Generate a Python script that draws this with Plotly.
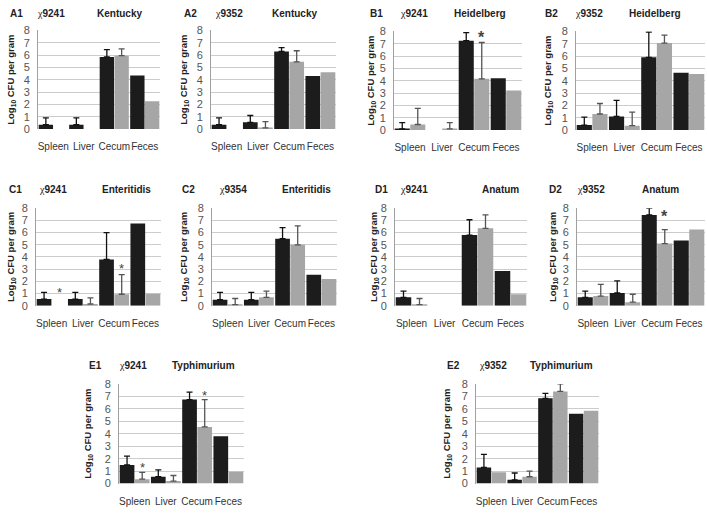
import plotly.graph_objects as go

organs = ["Spleen", "Liver", "Cecum", "Feces"]

# log10 CFU per gram: black = first group, grey = second group; err = upper error
A1_black = [0.35, 0.35, 5.85, 4.35]
A1_black_err = [0.55, 0.55, 0.6, None]
A1_grey = [0, 0, 5.95, 2.25]
A1_grey_err = [None, None, 0.55, None]

A2_black = [0.35, 0.55, 6.3, 4.3]
A2_black_err = [0.55, 0.55, 0.3, None]
A2_grey = [0, 0.1, 5.45, 4.6]
A2_grey_err = [None, 0.5, 0.9, None]

B1_black = [0.1, 0, 7.25, 4.2]
B1_black_err = [0.5, None, 0.65, None]
B1_grey = [0.45, 0.1, 4.15, 3.2]
B1_grey_err = [1.3, 0.5, 2.95, None]

B2_black = [0.4, 1.1, 5.9, 4.65]
B2_black_err = [0.65, 1.3, 2.05, None]
B2_grey = [1.3, 0.35, 7.05, 4.55]
B2_grey_err = [0.85, 1.1, 0.65, None]

C1_black = [0.55, 0.55, 3.8, 6.75]
C1_black_err = [0.55, 0.55, 2.2, None]
C1_grey = [0, 0.15, 0.95, 1.0]
C1_grey_err = [None, 0.5, 1.6, None]

C2_black = [0.5, 0.5, 5.5, 2.55]
C2_black_err = [0.6, 0.6, 0.9, None]
C2_grey = [0.1, 0.7, 5.0, 2.2]
C2_grey_err = [0.5, 0.5, 1.55, None]

D1_black = [0.7, 0, 5.8, 2.85]
D1_black_err = [0.5, None, 1.25, None]
D1_grey = [0.1, 0, 6.35, 0.95]
D1_grey_err = [0.5, None, 1.1, None]

D2_black = [0.7, 1.05, 7.45, 5.35]
D2_black_err = [0.5, 1.0, 0.55, None]
D2_grey = [0.8, 0.3, 5.1, 6.25]
D2_grey_err = [0.95, 0.65, 1.15, None]

E1_black = [1.5, 0.55, 6.75, 3.8]
E1_black_err = [0.7, 0.55, 0.6, None]
E1_grey = [0.35, 0.2, 4.55, 0.95]
E1_grey_err = [0.55, 0.45, 2.2, None]

E2_black = [1.3, 0.3, 6.85, 5.6]
E2_black_err = [1.05, 0.55, 0.4, None]
E2_grey = [0.9, 0.55, 7.4, 5.85]
E2_grey_err = [None, 0.45, 0.6, None]

# asterisks on the grey bars: (panel, organ index, height of the star)
stars = [("B1", 2, 7.5), ("C1", 0, 1.1), ("C1", 2, 3.05),
         ("D2", 2, 7.35), ("E1", 0, 1.3), ("E1", 2, 7.1)]
bold_stars = {"B1", "D2"}

W, H = 707, 514
BLACK = "#1c1c1c"
GREY = "#a6a6a6"
FONT = "Liberation Sans"
HALF = 0.2425  # centre offset of each bar inside its organ group

# layout of each panel in pixels: plot box, y-title x, header x positions, header y
panels = [
    ("A1", "9241", "Kentucky", A1_black, A1_black_err, A1_grey, A1_grey_err, (38, 160, 25, 126), 11, (8, 35, 95), 8),
    ("A2", "9352", "Kentucky", A2_black, A2_black_err, A2_grey, A2_grey_err, (211, 336, 25, 126), 184, (182, 213, 270), 8),
    ("B1", "9241", "Heidelberg", B1_black, B1_black_err, B1_grey, B1_grey_err, (394, 522, 26, 127), 371, (368, 398, 452), 8),
    ("B2", "9352", "Heidelberg", B2_black, B2_black_err, B2_grey, B2_grey_err, (576, 705, 26, 127), 548, (543, 573, 627), 8),
    ("C1", "9241", "Enteritidis", C1_black, C1_black_err, C1_grey, C1_grey_err, (36, 161, 207, 307), 11, (7, 37, 100), 188),
    ("C2", "9354", "Enteritidis", C2_black, C2_black_err, C2_grey, C2_grey_err, (212, 337, 207, 307), 184, (180, 217, 280), 188),
    ("D1", "9241", "Anatum", D1_black, D1_black_err, D1_grey, D1_grey_err, (395, 527, 207, 307), 374, (373, 398, 480), 188),
    ("D2", "9352", "Anatum", D2_black, D2_black_err, D2_grey, D2_grey_err, (577, 705, 207, 307), 553, (547, 575, 640), 188),
    ("E1", "9241", "Typhimurium", E1_black, E1_black_err, E1_grey, E1_grey_err, (119, 244, 387, 489), 88, (87, 117, 170), 368),
    ("E2", "9352", "Typhimurium", E2_black, E2_black_err, E2_grey, E2_grey_err, (476, 599, 387, 489), 447, (445, 477, 528), 368),
]

fig = go.Figure()
annotations = []
layout = {}
panel_info = {}

for i, (name, strain, serovar, bk, bke, gr, gre, box, ytx, hx, hy) in enumerate(panels, start=1):
    sfx = "" if i == 1 else str(i)
    panel_info[name] = sfx
    x0, x1, y0, y1 = box
    xs = list(range(len(organs)))
    for vals, errs, col, ecol, side in ((bk, bke, BLACK, "#111111", -1), (gr, gre, GREY, "#555555", 1)):
        fig.add_trace(go.Bar(
            x=xs, y=vals, marker=dict(color=col, line=dict(width=0)),
            xaxis="x" + sfx, yaxis="y" + sfx, showlegend=False, hoverinfo="skip",
        ))
        keep = [k for k in xs if errs[k] is not None]
        if keep:
            fig.add_trace(go.Scatter(
                x=[k + side * HALF for k in keep], y=[vals[k] for k in keep],
                mode="markers", marker=dict(size=1, color="rgba(0,0,0,0)"),
                error_y=dict(type="data", symmetric=False, array=[errs[k] for k in keep],
                             arrayminus=[0] * len(keep), color=ecol, thickness=1.3, width=3),
                xaxis="x" + sfx, yaxis="y" + sfx, showlegend=False, hoverinfo="skip",
            ))
    layout["xaxis" + sfx] = dict(
        domain=[x0 / W, x1 / W], anchor="y" + sfx, range=[-0.5, 3.5],
        tickvals=xs, ticktext=organs, tickangle=0, showgrid=False, zeroline=False,
        showline=False, ticks="", ticklabelstandoff=10,
        tickfont=dict(family=FONT, size=10, color="#333333"),
    )
    layout["yaxis" + sfx] = dict(
        domain=[1 - y1 / H, 1 - y0 / H], anchor="x" + sfx, range=[0, 8],
        tickvals=list(range(9)), showgrid=True, gridcolor="#cccccc", gridwidth=1,
        zeroline=False, showline=True, linecolor="#a0a0a0", linewidth=1,
        ticks="", ticklabelstandoff=5,
        tickfont=dict(family=FONT, size=11, color="#555555"),
    )
    annotations.append(dict(
        x=ytx / W, y=1 - (y0 + y1) / 2 / H, xref="paper", yref="paper",
        text="<b>Log<sub>10</sub> CFU per gram</b>", textangle=-90, showarrow=False,
        font=dict(family=FONT, size=9.5, color="#222222"), xanchor="center", yanchor="middle",
    ))
    for tx, text in zip(hx, (f"<b>{name}</b>",
                             f"<span style='font-family:Liberation Serif'>χ</span><b>{strain}</b>",
                             f"<b>{serovar}</b>")):
        annotations.append(dict(
            x=tx / W, y=1 - hy / H, xref="paper", yref="paper", text=text,
            showarrow=False, xanchor="left", yanchor="middle",
            font=dict(family=FONT, size=10, color="#222222"),
        ))

for name, k, ystar in stars:
    sfx = panel_info[name]
    bold = name in bold_stars
    annotations.append(dict(
        x=k + HALF, y=ystar, xref="x" + sfx, yref="y" + sfx,
        text="<b>*</b>" if bold else "*", showarrow=False, yanchor="middle",
        font=dict(family=FONT, size=16 if bold else 13, color="#444444"),
    ))

fig.update_layout(
    width=W, height=H, margin=dict(l=0, r=0, t=0, b=0),
    paper_bgcolor="white", plot_bgcolor="white",
    barmode="group", bargap=0.03, bargroupgap=0.03,
    annotations=annotations, **layout,
)

# the page body has a default 8px margin; drop it so the figure sits at the window corner
fig.write_html("out.html", config={"displayModeBar": False},
               post_script="document.body.style.margin = '0';")
